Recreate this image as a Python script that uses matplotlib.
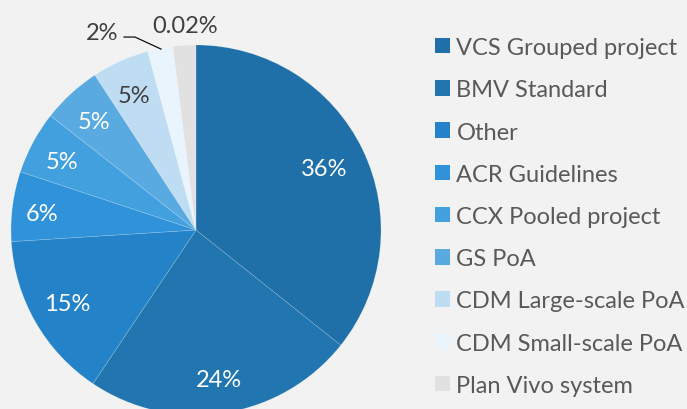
import numpy as np
import matplotlib
matplotlib.use('Agg')
import matplotlib.pyplot as plt

plt.rcParams['font.family'] = ['Lato', 'DejaVu Sans']

standards = ['VCS Grouped project', 'BMV Standard', 'Other', 'ACR Guidelines',
             'CCX Pooled project', 'GS PoA', 'CDM Large-scale PoA',
             'CDM Small-scale PoA', 'Plan Vivo system']
shares = [35.7, 23.7, 14.6, 6.1, 5.5, 5.2, 5.0, 2.2, 2.0]
pct_labels = ['36%', '24%', '15%', '6%', '5%', '5%', '5%', '2%', '0.02%']
colors = ['#1f6fa8', '#2176b0', '#2483c8', '#3093da', '#43a0df',
          '#5aaae2', '#bedcf2', '#eaf4fc', '#e1e1e1']

bg = '#f2f2f2'
fig = plt.figure(figsize=(6.87, 4.10), dpi=100, facecolor=bg)
ax = fig.add_axes([0, 0, 1, 1])
ax.set_facecolor(bg)

wedges, _ = ax.pie(shares, colors=colors, startangle=90, counterclock=False,
                   radius=1, wedgeprops=dict(edgecolor=(1, 1, 1, 0.2), linewidth=0.5))

fs = 17
# labels inside the slices
dists = [0.77, 0.82, 0.80, 0.84, 0.82, 0.82, 0.82]
for i, (w, txt, d) in enumerate(zip(wedges[:7], pct_labels[:7], dists)):
    a = np.deg2rad((w.theta1 + w.theta2) / 2)
    c = '#404040' if i == 6 else 'white'
    dy = -0.02 if i >= 3 else 0
    ax.text(d * np.cos(a), d * np.sin(a) + dy, txt, ha='center', va='center',
            fontsize=fs, color=c)

# small slices labelled outside
ax.text(-0.508, 1.065, pct_labels[7], ha='center', va='center', fontsize=fs, color='#404040')
ax.plot([-0.389, -0.330, -0.189], [1.043, 1.043, 0.978], color='#111111', lw=0.9)
ax.text(-0.059, 1.105, pct_labels[8], ha='center', va='center', fontsize=fs, color='#404040')

ax.set_xlim(-196 / 185, (687 - 196) / 185)
ax.set_ylim((231 - 410) / 185, 231 / 185)
ax.set_aspect('auto')
ax.axis('off')

leg = ax.legend(wedges, standards, loc='upper left', bbox_to_anchor=(435 / 687, 1 - 38 / 410),
                bbox_transform=fig.transFigure, frameon=False, fontsize=fs,
                handlelength=0.63, handleheight=0.63, handletextpad=0.28,
                labelspacing=0.9, borderpad=0, borderaxespad=0)
for t in leg.get_texts():
    t.set_color('#595959')
for h in leg.legend_handles:
    h.set_edgecolor('none')

fig.savefig('out.png', dpi=100, facecolor=bg)
